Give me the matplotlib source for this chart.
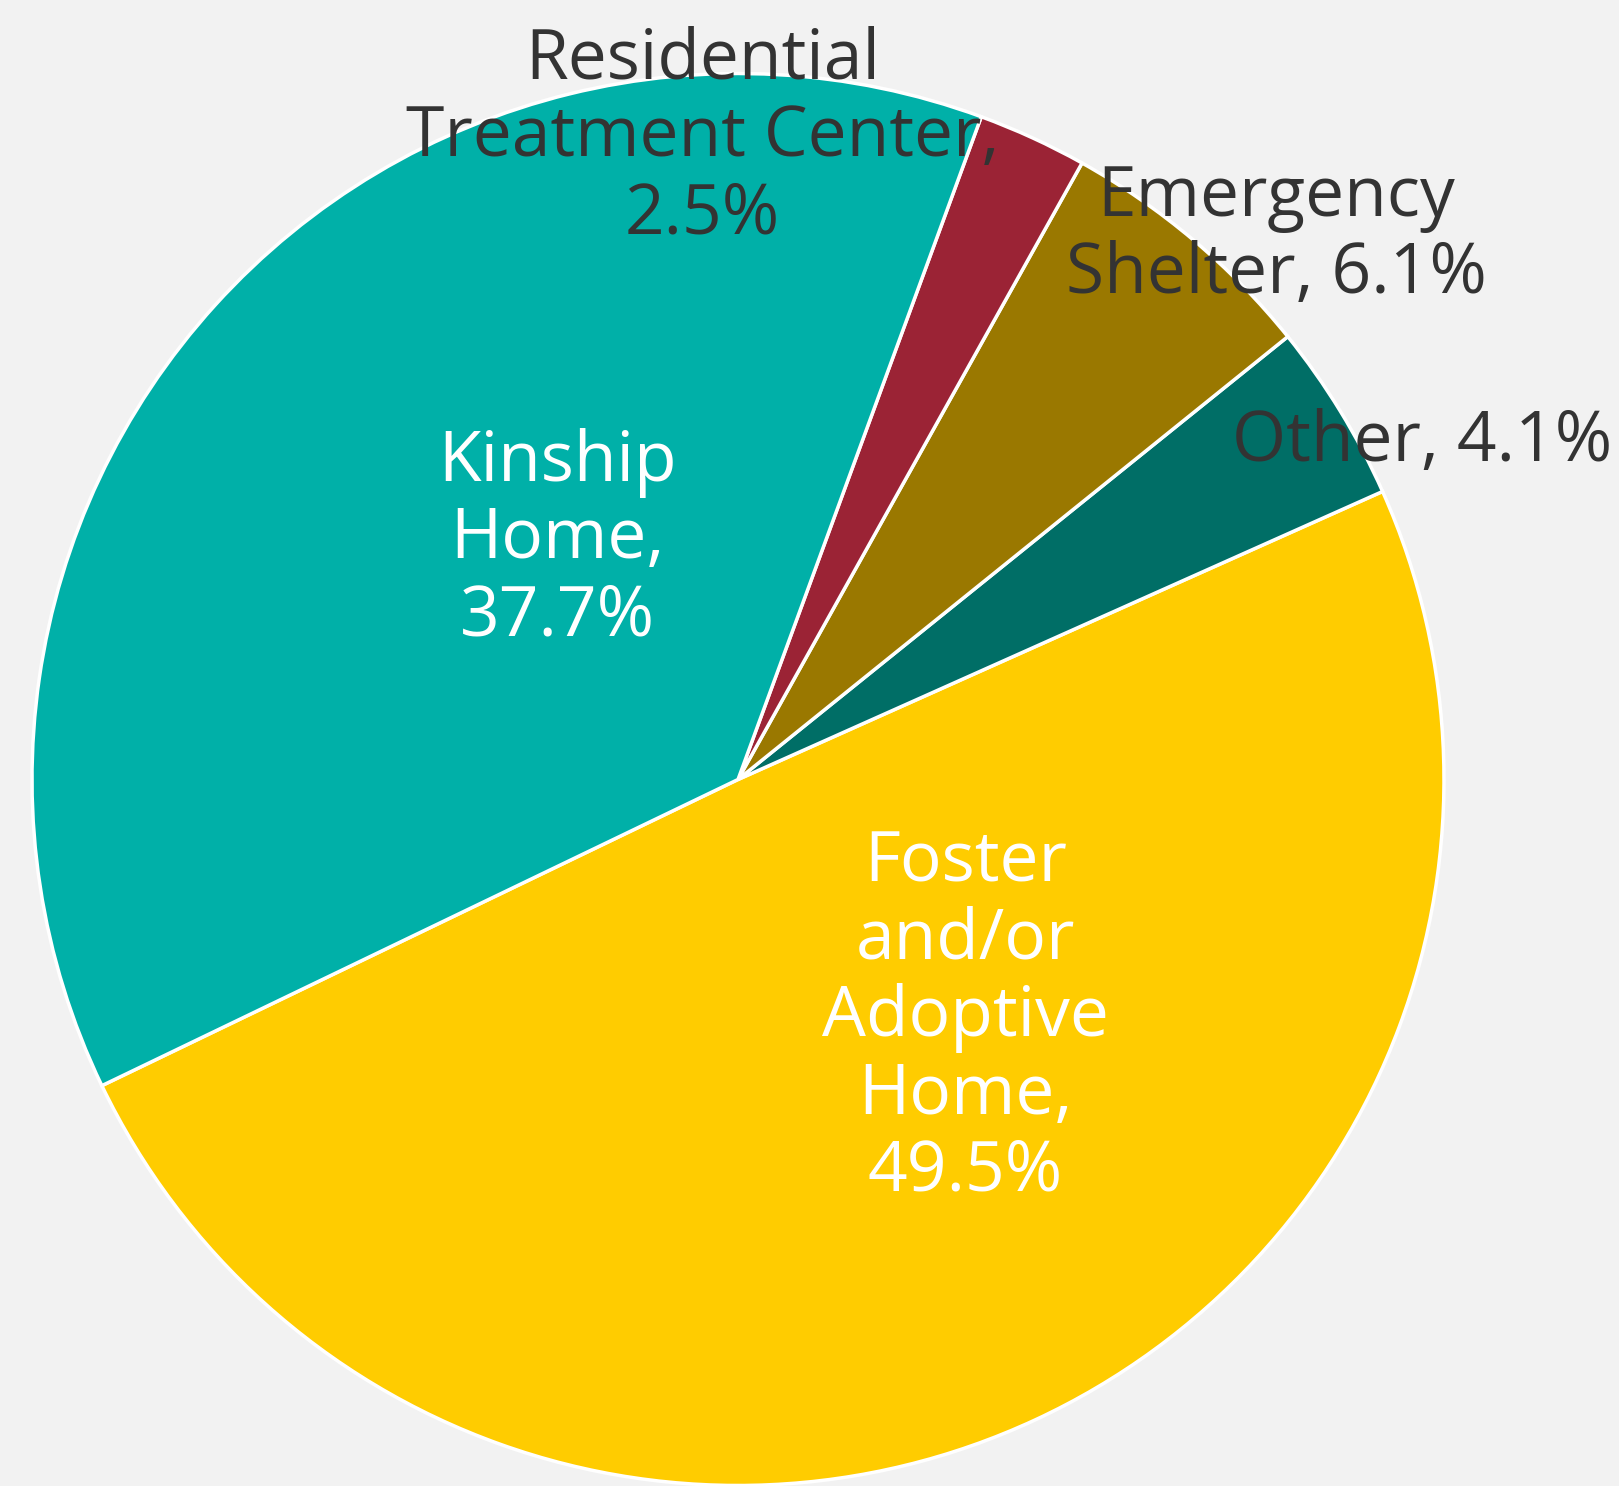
import matplotlib
matplotlib.use("Agg")
import matplotlib.pyplot as plt

# Data (counterclockwise order starting at lower-left boundary)
categories = ["Foster\nand/or\nAdoptive\nHome", "Other", "Emergency\nShelter",
              "Residential\nTreatment Center", "Kinship\nHome"]
values = [49.5, 4.1, 6.1, 2.5, 37.7]
pct_labels = ["49.5%", "4.1%", "6.1%", "2.5%", "37.7%"]

colors = ["#ffcc00", "#006e66", "#9a7800", "#9b2335", "#00b0a8"]
text_colors = ["white", "#333333", "#333333", "#333333", "white"]
label_text = [
    "Foster\nand/or\nAdoptive\nHome,\n49.5%",
    "Other, 4.1%",
    "Emergency\nShelter, 6.1%",
    "Residential\nTreatment Center,\n2.5%",
    "Kinship\nHome,\n37.7%",
]
# label positions (in radius units, relative to centre)
label_pos = [(0.322, -0.338), (0.969, 0.477), (0.762, 0.769),
             (-0.050, 0.909), (-0.256, 0.339)]

W, H = 1619, 1486
fig = plt.figure(figsize=(W / 100, H / 100), dpi=100)
fig.patch.set_facecolor("#f2f2f2")
ax = fig.add_axes([0, 0, 1, 1])
ax.set_facecolor("#f2f2f2")

ax.pie(values, colors=colors, startangle=205.7, counterclock=True,
       radius=1.0, center=(0, 0),
       wedgeprops=dict(edgecolor="white", linewidth=2.5))

cx, cy, r = 738.0, 779.5, 706.0
ax.set_xlim(-cx / r, (W - cx) / r)
ax.set_ylim(-(H - cy) / r, cy / r)
ax.set_aspect("equal")
ax.axis("off")

for txt, (x, y), c in zip(label_text, label_pos, text_colors):
    ax.text(x, y, txt, ha="center", va="center", color=c, fontsize=50,
            family=["Open Sans", "DejaVu Sans"], linespacing=1.14)

fig.savefig("out.png", dpi=100, facecolor=fig.get_facecolor())
